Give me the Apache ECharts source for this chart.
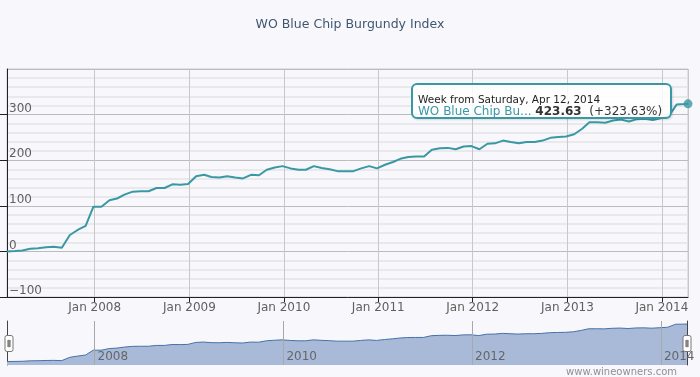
<!DOCTYPE html>
<html>
<head>
<meta charset="utf-8">
<title>WO Blue Chip Burgundy Index</title>
<script src="https://cdn.jsdelivr.net/npm/echarts@6/dist/echarts.min.js"></script>
<style>
  html, body { margin: 0; padding: 0; background: #f8f8fc; }
  #chart { width: 700px; height: 377px; }
</style>
</head>
<body>
<div id="chart"></div>
<script>
// weekly index, sampled roughly monthly (week starting Saturday)
const weeks = [
  '2007-01-27', '2007-02-27', '2007-03-27', '2007-04-27', '2007-05-27', '2007-06-27',
  '2007-07-27', '2007-08-27', '2007-09-27', '2007-10-27', '2007-11-27', '2007-12-27',
  '2008-01-27', '2008-02-27', '2008-03-27', '2008-04-27', '2008-05-27', '2008-06-27',
  '2008-07-27', '2008-08-27', '2008-09-27', '2008-10-27', '2008-11-27', '2008-12-27',
  '2009-01-27', '2009-02-27', '2009-03-27', '2009-04-27', '2009-05-27', '2009-06-27',
  '2009-07-27', '2009-08-27', '2009-09-27', '2009-10-27', '2009-11-27', '2009-12-27',
  '2010-01-27', '2010-02-27', '2010-03-27', '2010-04-27', '2010-05-27', '2010-06-27',
  '2010-07-27', '2010-08-27', '2010-09-27', '2010-10-27', '2010-11-27', '2010-12-27',
  '2011-01-27', '2011-02-27', '2011-03-27', '2011-04-27', '2011-05-27', '2011-06-27',
  '2011-07-27', '2011-08-27', '2011-09-27', '2011-10-27', '2011-11-27', '2011-12-27',
  '2012-01-27', '2012-02-27', '2012-03-27', '2012-04-27', '2012-05-27', '2012-06-27',
  '2012-07-27', '2012-08-27', '2012-09-27', '2012-10-27', '2012-11-27', '2012-12-27',
  '2013-01-27', '2013-02-27', '2013-03-27', '2013-04-27', '2013-05-27', '2013-06-27',
  '2013-07-27', '2013-08-27', '2013-09-27', '2013-10-27', '2013-11-27', '2013-12-27',
  '2014-01-27', '2014-02-27', '2014-03-27', '2014-04-12'
];
// % change since start
const change = [
  0, 1, 2, 6, 7, 9, 10, 8, 36, 47, 56, 98,
  98, 112, 116, 125, 131, 132, 132, 139, 139, 147, 146, 148,
  165, 168, 163, 162, 165, 162, 160, 168, 167, 179, 184, 187,
  182, 179, 179, 187, 183, 180, 176, 176, 176, 182, 187, 182,
  190, 196, 203, 207, 208, 208, 223, 226, 227, 224, 230, 231,
  224, 236, 237, 243, 240, 237, 240, 240, 243, 249, 251, 252,
  257, 269, 283, 283, 282, 287, 289, 285, 290, 291, 288, 292,
  296, 322, 323, 323.63
];
const yTicks = [-100, 0, 100, 200, 300, 400];
const navYears = [2008, 2010, 2012, 2014];
const seriesName = 'WO Blue Chip Burgundy Index';
const baseLevel = 100;

const lineColor = '#3a98a4';
const DAY = 24 * 3600 * 1000;

const chart = echarts.init(document.getElementById('chart'));

const toTime = (d) => new Date(d + 'T00:00:00').getTime();
const points = weeks.map((d, i) => [toTime(d), change[i]]);
const last = points.length - 1;
const navTickValues = navYears.map((y) => new Date(y, 0, 1).getTime());

const option = {
  animation: false,
  backgroundColor: '#f8f8fc',
  textStyle: { fontFamily: 'DejaVu Sans' },
  title: {
    text: seriesName,
    left: 'center',
    top: 13,
    textStyle: { color: '#3e576f', fontSize: 12.5, fontWeight: 'normal' },
  },
  graphic: [{
    type: 'text',
    right: 23,
    bottom: 0,
    style: { text: 'www.wineowners.com', fill: '#909090', fontSize: 10, fontFamily: 'DejaVu Sans' },
  }],
  tooltip: {
    trigger: 'item',
    triggerOn: 'none',
    alwaysShowContent: true,
    transitionDuration: 0,
    position: [411, 83],
    backgroundColor: 'rgba(255,255,255,0.85)',
    borderColor: lineColor,
    borderWidth: 2,
    borderRadius: 6,
    padding: [8, 8, 0, 5],
    extraCssText: 'box-shadow:1px 1px 2px rgba(0,0,0,0.12);',
    formatter: () => {
      const d = new Date(points[last][0]);
      const label = d.toLocaleDateString('en-US', { weekday: 'long', month: 'short', day: 'numeric', year: 'numeric' });
      const v = change[last];
      return '<div style="font-family:DejaVu Sans;font-size:10.5px;line-height:12px;color:#222">Week from ' + label + '</div>' +
        '<div style="font-family:DejaVu Sans;font-size:12px;line-height:12px;color:#333">' +
        '<span style="color:' + lineColor + '">WO Blue Chip Bu...</span> ' +
        '<b>' + (baseLevel + v).toFixed(2) + '</b>&nbsp; (+' + v.toFixed(2) + '%)</div>';
    },
  },
  grid: [
    { left: 7, right: 12, top: 69, height: 228, show: true, borderColor: '#cccccc', borderWidth: 1, backgroundColor: 'transparent' },
    { left: 7, right: 13, top: 321, height: 44 },
  ],
  xAxis: [
    {
      type: 'time',
      gridIndex: 0,
      min: points[0][0],
      max: points[last][0],
      minInterval: 365 * DAY,
      maxInterval: 366 * DAY,
      axisLine: { onZero: false, lineStyle: { color: '#222', width: 1 } },
      axisTick: { show: true, length: 5, lineStyle: { color: '#222' } },
      axisLabel: {
        color: '#606060',
        fontSize: 12,
        margin: 5,
        showMinLabel: false,
        showMaxLabel: false,
        formatter: (v) => 'Jan ' + new Date(v).getFullYear(),
      },
      splitLine: { show: true, lineStyle: { color: '#c8c8c8', width: 1 } },
    },
    {
      type: 'value',
      gridIndex: 1,
      min: points[0][0],
      max: points[last][0],
      z: 5,
      axisLine: { show: false, onZero: false },
      axisTick: { show: false, customValues: navTickValues },
      axisLabel: {
        inside: true,
        align: 'left',
        margin: 2,
        padding: [0, 0, 0, 3],
        color: '#666',
        fontSize: 12,
        customValues: navTickValues,
        formatter: (v) => String(new Date(v).getFullYear()),
      },
      splitLine: { show: true, lineStyle: { color: '#a8a8a8', width: 1 } },
    },
  ],
  yAxis: [
    {
      type: 'value',
      gridIndex: 0,
      min: yTicks[0],
      max: yTicks[yTicks.length - 1],
      interval: yTicks[1] - yTicks[0],
      axisLine: { show: true, lineStyle: { color: '#222', width: 1 } },
      axisTick: { show: true, length: 7, lineStyle: { color: '#222' } },
      axisLabel: {
        inside: true,
        margin: 2,
        verticalAlign: 'bottom',
        color: '#606060',
        fontSize: 12,
        showMaxLabel: false,
        formatter: (v) => String(v).replace('-', '\u2212'),
      },
      splitLine: { show: true, lineStyle: { color: '#bcbcbc', width: 1 } },
      minorTick: { show: false, splitNumber: 5 },
      minorSplitLine: { show: true, lineStyle: { color: '#e3e3e6', width: 1.5 } },
    },
    {
      type: 'value',
      gridIndex: 1,
      min: -30,
      max: 350,
      axisLine: { show: true, lineStyle: { color: '#444', width: 1 } },
      axisTick: { show: false },
      axisLabel: { show: false },
      splitLine: { show: false },
    },
    {
      type: 'value',
      gridIndex: 1,
      position: 'right',
      min: -30,
      max: 350,
      axisLine: { show: true, lineStyle: { color: '#444', width: 1 } },
      axisTick: { show: false },
      axisLabel: { show: false },
      splitLine: { show: false },
    },
  ],
  dataZoom: [{
    type: 'slider',
    xAxisIndex: 0,
    left: 7,
    right: 13,
    top: 321,
    height: 45,
    showDataShadow: false,
    showDetail: false,
    brushSelect: false,
    moveHandleSize: 0,
    backgroundColor: 'rgba(0,0,0,0)',
    fillerColor: 'rgba(0,0,0,0)',
    borderColor: 'rgba(0,0,0,0)',
    handleIcon: 'path://M2,0H6A2,2,0,0,1,8,2V14A2,2,0,0,1,6,16H2A2,2,0,0,1,0,14V2A2,2,0,0,1,2,0Z M3,4.5H3.3V11.5H3Z M4.7,4.5H5V11.5H4.7Z',
    handleSize: 16,
    handleStyle: { color: '#ffffff', borderColor: '#777', borderWidth: 1 },
  }],
  series: [
    {
      name: seriesName,
      type: 'line',
      xAxisIndex: 0,
      yAxisIndex: 0,
      data: points,
      showSymbol: false,
      symbol: 'none',
      lineStyle: { color: lineColor, width: 2 },
      itemStyle: { color: lineColor },
      z: 3,
    },
    {
      name: seriesName,
      type: 'scatter',
      xAxisIndex: 0,
      yAxisIndex: 0,
      data: [points[last]],
      symbolSize: 9,
      clip: false,
      itemStyle: { color: lineColor },
      z: 4,
    },
    {
      name: 'navigator',
      type: 'line',
      xAxisIndex: 1,
      yAxisIndex: 1,
      data: points,
      showSymbol: false,
      symbol: 'none',
      silent: true,
      lineStyle: { color: '#4572a7', width: 1 },
      areaStyle: { color: '#a9bad8', opacity: 1, origin: 'start' },
    },
  ],
};

chart.setOption(option);
chart.dispatchAction({ type: 'showTip', seriesIndex: 1, dataIndex: 0 });
</script>
</body>
</html>
